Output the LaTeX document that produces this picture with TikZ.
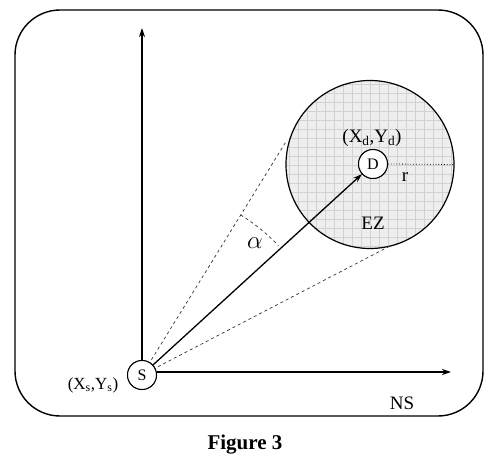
\documentclass[tikz,border=0pt]{standalone}
\usepackage{fontspec}
\setmainfont{Liberation Serif}
\usetikzlibrary{arrows.meta}
\begin{document}
\begin{tikzpicture}[x=1pt,y=-1pt,
  axis/.style={line width=1.3pt,-{Stealth[length=9pt,width=6pt]}},
  pt/.style={circle,draw,line width=1pt,fill=white,minimum size=29pt,inner sep=0pt,font=\fontsize{16}{16}\selectfont},
  tang/.style={line width=0.7pt,dash pattern=on 3pt off 3pt,black!80},
  lbl/.style={font=\fontsize{19}{19}\selectfont,inner sep=0pt}]
\useasboundingbox (0,0) rectangle (491,460);
\draw[line width=1.4pt,rounded corners=45pt] (15,10) rectangle (483,416);
% exclusion zone
\begin{scope}
  \clip (370,164.5) circle (84);
  \fill[gray!13] (280,75) rectangle (460,255);
  \foreach \i in {0,...,20} {
    \draw[gray!35,line width=0.5pt] (280+9*\i,75) -- (280+9*\i,255);
    \draw[gray!35,line width=0.5pt] (280,75+9*\i) -- (460,75+9*\i);
  }
\end{scope}
\node[circle,draw,line width=1.2pt,minimum size=168pt,inner sep=0pt] (EZ) at (370,164.5) {};
% tangent lines
\coordinate (T1) at (287,140);
\coordinate (T2) at (390,246);
\node[pt] (S) at (142,375) {S};
\node[pt] (D) at (373,164) {D};
\draw[tang] (S.center) -- (T1);
\draw[tang] (S.center) -- (T2);
% axes
\coordinate (YT) at (142,28);
\coordinate (XT) at (451,372);
\draw[axis] (S.north) -- (YT);
\draw[axis] (S.east |- XT) -- (XT);
% main arrow
\draw[line width=1.3pt,-{Stealth[length=9pt,width=6pt]}] (S) -- (D);
% radius
\draw[dotted,line width=0.8pt] (D.east) -- (EZ.east);
% alpha arc
\draw[tang] (S.center) ++(58.4:188pt) coordinate (A1) arc[start angle=-58.4,end angle=-43.5,radius=188];
\node[font=\fontsize{27}{27}\selectfont,inner sep=0pt] (al) at (255,243) {$\alpha$};
% redraw nodes on top
\node[pt] at (S) {S};
\node[pt] at (D) {D};
% labels
\node[lbl] (xd) at (372,138) {(X\textsubscript{d},Y\textsubscript{d})};
\node[lbl] (r) at (405,177) {r};
\node[lbl] (ez) at (373,223) {EZ};
\node[lbl,font=\fontsize{17}{17}\selectfont] (xs) at (93,385) {(X\textsubscript{s},Y\textsubscript{s})};
\node[lbl] (ns) at (402,403) {NS};
\node[inner sep=0pt,font=\fontsize{21}{21}\selectfont\bfseries] (fig) at (245,445) {Figure 3};
\end{tikzpicture}
\end{document}
